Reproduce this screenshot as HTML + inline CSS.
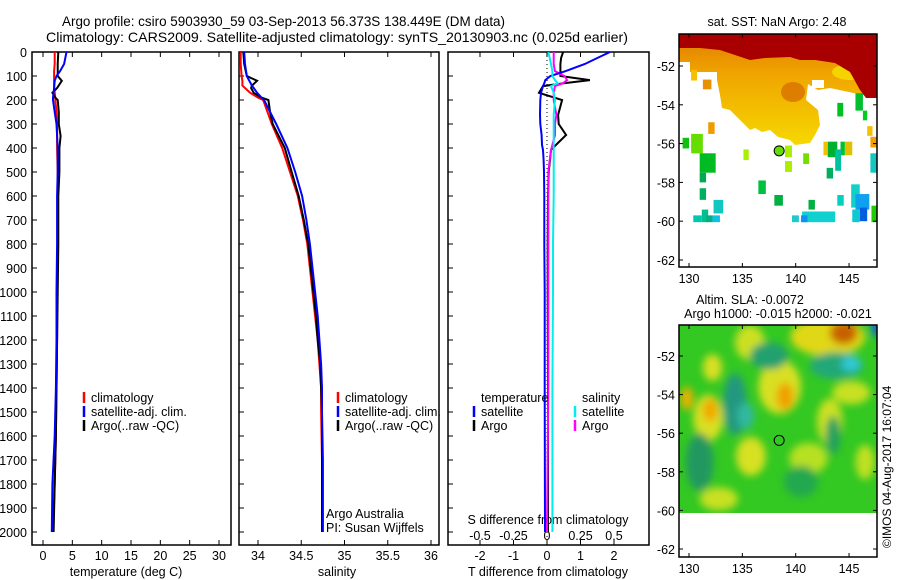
<!DOCTYPE html>
<html><head><meta charset="utf-8"><style>
body{margin:0;background:#fff}
svg{display:block;font-family:"Liberation Sans",sans-serif}
text{fill:#000}
</style></head><body>
<svg id="s" width="900" height="580" viewBox="0 0 900 580" xmlns="http://www.w3.org/2000/svg">
<defs>
<clipPath id="c1"><rect x="32" y="52" width="199" height="493"/></clipPath>
<clipPath id="c2"><rect x="239" y="52" width="200" height="493"/></clipPath>
<clipPath id="c3"><rect x="448" y="52" width="201" height="493"/></clipPath>
<clipPath id="cm1"><rect x="679" y="34" width="198" height="233"/></clipPath>
<clipPath id="cm2"><rect x="679" y="325" width="198" height="188"/></clipPath>
<filter id="bl" x="-50%" y="-50%" width="200%" height="200%"><feGaussianBlur stdDeviation="4"/></filter>
<linearGradient id="og" x1="0" y1="0" x2="0" y2="1"><stop offset="0" stop-color="#e07a00"/><stop offset="0.35" stop-color="#f0a400"/><stop offset="1" stop-color="#f6d800"/></linearGradient>
</defs>
<g>
<text x="62" y="26" font-size="14" textLength="443" lengthAdjust="spacingAndGlyphs">Argo profile: csiro 5903930_59 03-Sep-2013 56.373S 138.449E (DM data)</text>
<text x="46" y="42" font-size="14" textLength="582" lengthAdjust="spacingAndGlyphs">Climatology: CARS2009. Satellite-adjusted climatology: synTS_20130903.nc (0.025d earlier)</text>
</g>
<g id="g1"></g>
<g id="g2"></g>
<g id="g3"></g>
<g id="m1"></g>
<g id="m2"></g>
<text x="891" y="548" font-size="12" transform="rotate(-90 891 548)">©IMOS 04-Aug-2017 16:07:04</text>
</svg>
<script>
// ---- profile data ----
const tDepth = [0,50,80,100,120,150,170,190,200,250,300,350,400,500,600,800,1000,1200,1400,1600,1800,2000];
const tClim  = [2.0,2.0,1.9,1.9,1.9,1.9,2.0,2.1,2.1,2.3,2.4,2.4,2.4,2.5,2.5,2.5,2.4,2.4,2.3,2.2,2.0,1.7];
const tSat   = [4.0,3.6,2.9,2.3,2.0,1.9,1.8,1.7,1.7,2.0,2.3,2.4,2.5,2.5,2.4,2.4,2.3,2.3,2.2,2.0,1.6,1.5];
const tArgo  = [2.6,2.5,2.5,2.5,3.2,2.4,1.6,2.1,2.5,2.7,2.7,3.0,2.8,2.8,2.6,2.6,2.5,2.4,2.3,2.2,2.0,1.8];
const sDepth = [0,50,100,120,140,150,170,190,200,250,300,400,500,600,700,800,900,1000,1100,1200,1300,1400,1500,1700,2000];
const sClim  = [33.80,33.80,33.81,33.82,33.82,33.85,33.91,34.00,34.06,34.11,34.16,34.28,34.37,34.46,34.52,34.57,34.60,34.63,34.66,34.69,34.71,34.73,34.73,34.74,34.74];
const sSat   = [33.84,33.85,33.87,33.90,33.93,33.95,33.99,34.04,34.07,34.14,34.21,34.34,34.43,34.51,34.56,34.60,34.63,34.66,34.69,34.71,34.73,34.74,34.74,34.75,34.75];
const sArgo  = [33.83,33.84,33.87,33.99,33.93,33.92,33.95,34.04,34.12,34.14,34.17,34.31,34.39,34.47,34.53,34.58,34.61,34.64,34.67,34.69,34.72,34.73,34.74,34.74,34.74];
const dDepth = [0,25,50,80,100,117,130,142,170,200,262,300,346,387,408,450,500,600,800,1000,1400,2000];
const dTSat  = [1.88,1.5,1.13,0.55,0.1,-0.05,-0.08,-0.12,-0.18,-0.2,-0.21,-0.2,-0.16,-0.15,-0.12,-0.1,-0.09,-0.08,-0.08,-0.07,-0.07,-0.06];
const dTArgo = [0.48,0.42,0.40,0.40,0.40,1.28,0.5,-0.12,-0.24,0.45,0.33,0.35,0.57,0.27,0.12,0.09,0.05,0.03,0.02,0.02,0.03,0.03];
const dSSat  = [0.01,0.02,0.03,0.04,0.04,0.06,0.08,0.03,0.05,0.06,0.05,0.05,0.05,0.05,0.05,0.05,0.05,0.05,0.045,0.045,0.04,0.04];
const dSArgo = [0.05,0.05,0.05,0.06,0.13,0.15,0.12,0.06,0.05,0.05,0.07,0.06,0.06,0.04,0.03,0.02,0.01,0.01,0.01,0.01,0.01,0.0];
const tTicks = [0,5,10,15,20,25,30];
const sTicks = [34,34.5,35,35.5,36];
const dtTicks = [-2,-1,0,1,2];
const dsTicks = [-0.5,-0.25,0,0.25,0.5];
const depthTicks = [0,100,200,300,400,500,600,700,800,900,1000,1100,1200,1300,1400,1500,1600,1700,1800,1900,2000];
// ---- map data ----
const lonTicks = [130,135,140,145];
const latTicks = [-52,-54,-56,-58,-60,-62];
const argoLon = 138.449, argoLat = -56.373;
const sstCells = [
[130.2,131.3,-55.5,-56.5,'#66dd00'],[129.4,130,-55.7,-56.25,'#10c010'],[131,132.5,-56.5,-57.5,'#00bb22'],[131,131.6,-57.5,-58,'#00aa55'],[131,131.6,-58.3,-58.9,'#00b060'],
[131.8,132.4,-54.9,-55.5,'#f09a00'],[131.3,132.1,-52.7,-53.2,'#e89000'],[130.2,130.75,-52.2,-52.75,'#f5c000'],
[135.1,135.6,-56.3,-56.85,'#aaee00'],[139,139.65,-56.1,-56.7,'#aaee00'],[139,139.65,-56.9,-57.46,'#aaee00'],[140.7,141.25,-56.5,-57.05,'#77dd00'],
[136.5,137.2,-57.9,-58.6,'#00c040'],[138,138.8,-58.65,-59.2,'#00b040'],[141.2,141.8,-58.9,-59.4,'#00b040'],
[132.3,133.2,-58.9,-59.6,'#10c8c0'],[130.4,131.2,-59.7,-60.05,'#00c8b0'],[131.2,131.8,-59.4,-60.05,'#00c090'],[131.6,132.2,-59.7,-60.05,'#00b080'],[132.2,132.9,-59.7,-60.05,'#10c0e0'],
[140.6,143.7,-59.5,-60.05,'#10d0d0'],[139.65,140.3,-59.7,-60.05,'#20c8d0'],[140.5,141.1,-59.7,-60.05,'#1090f0'],
[143,143.9,-55.9,-56.7,'#00b030'],[142.6,143,-55.9,-56.6,'#f0c000'],[144.6,145.3,-55.9,-56.6,'#e0c000'],[144.2,144.6,-55.9,-56.6,'#00c030'],
[142.9,143.5,-57.25,-57.8,'#00b060'],[143.7,144.25,-56.3,-57.4,'#00c0a0'],[143.9,144.5,-58.65,-59.2,'#00d0c0'],
[145.2,146,-58.1,-59.3,'#10d0c8'],[145.6,146.9,-58.6,-59.4,'#10a0f0'],[146,146.7,-59.3,-60,'#0060e0'],[145.3,146,-59.4,-60.05,'#10c8d0'],
[147,147.6,-56.5,-57.5,'#10c8c0'],[147.1,147.6,-59.2,-60.05,'#22cc00'],[147,147.6,-55.65,-56.2,'#f0a000'],[146.7,147.2,-55.1,-55.6,'#f5c000'],
[143.9,144.45,-53.9,-54.6,'#00c020'],[145.6,146.3,-53.4,-54.3,'#00c030'],[146.3,146.7,-54.3,-54.8,'#00cc20']];
const slaBlobs = [
[143,-51,3.5,1,'#e0d818'],[144.5,-50.8,1.3,0.6,'#c86000'],[147.6,-50.5,0.5,0.5,'#1060e0'],
[143.8,-52.5,2.5,0.7,'#22a878'],[145.2,-52.4,0.9,0.4,'#30c8d8'],[132.2,-52.6,0.9,0.7,'#d8e020'],[135.7,-51.3,1.4,0.9,'#cce020'],
[138.5,-53.6,2,1.4,'#d8e020'],[139,-54.1,0.8,0.7,'#f0a000'],[131.8,-55.2,1.4,1.2,'#d8e020'],[132,-54.8,0.7,0.6,'#f0a800'],[129.8,-54.2,0.6,0.6,'#f0b000'],
[134.3,-54.5,1.1,1.6,'#209880'],[135.3,-55.1,0.8,0.7,'#30b8a0'],[135.8,-57.2,1.4,1.0,'#d8e020'],[132.8,-59.4,1.8,0.6,'#c8e020'],
[143.2,-55.4,1.2,1.2,'#cce020'],[145.2,-53.9,1.8,0.6,'#c8e020'],[141.2,-57.3,1.8,0.8,'#b8e020'],[143.5,-56.1,0.7,1,'#22a060'],
[131,-57.5,1.3,1.5,'#209860'],[137.5,-52,1.8,0.7,'#20a070'],[140.5,-58.5,1.6,0.8,'#22a850'],[146.5,-57.5,0.9,0.9,'#c0e020']];

const NS='http://www.w3.org/2000/svg';
function mk(parent,tag,attrs){const e=document.createElementNS(NS,tag);for(const k in attrs)e.setAttribute(k,attrs[k]);parent.appendChild(e);return e;}
function txt(parent,x,y,s,size,anchor){const t=mk(parent,'text',{x:x,y:y,'font-size':size,'text-anchor':anchor||'start'});t.textContent=s;return t;}
const Y=d=>52+d*0.24;
const XT=v=>43+v*5.867, XS=v=>258+(v-34)*86.5, XDT=v=>547+v*33.5, XDS=v=>547+v*134;

function frame(g,x0,x1,name){
  const r=mk(g,'rect',{x:x0,y:52,width:x1-x0,height:493,fill:'none',stroke:'#000','stroke-width':1.5});
  
  
  depthTicks.forEach(d=>mk(g,'line',{x1:x0,x2:x0+5,y1:Y(d),y2:Y(d),stroke:'#000','stroke-width':1}));
}
function line(g,xs,ys,fx,color,clip,name){
  const pts=xs.map((v,i)=>fx(v).toFixed(1)+','+Y(ys[i]).toFixed(1)).join(' ');
  const p=mk(g,'polyline',{points:pts,fill:'none',stroke:color,'stroke-width':2,'clip-path':'url(#'+clip+')'});
  
  
}
function legend(g,x,y,color,label){
  const l=mk(g,'line',{x1:x,x2:x,y1:y-10,y2:y+1,stroke:color,'stroke-width':2.5});
  
  
  const t=txt(g,x+7,y,label,12.5);
  
  
}
// panel 1
const g1=document.getElementById('g1');
frame(g1,32,231,'temperature-plot-frame');
depthTicks.forEach(d=>{const t=txt(g1,27,Y(d)+5,String(d),12.5,'end');});
tTicks.forEach(v=>{mk(g1,'line',{x1:XT(v),x2:XT(v),y1:52,y2:57,stroke:'#000'});mk(g1,'line',{x1:XT(v),x2:XT(v),y1:545,y2:540,stroke:'#000'});const t=txt(g1,XT(v),560,String(v),12.5,'middle');});
{const t=txt(g1,126,576,'temperature (deg C)',12.5,'middle');}
line(g1,tClim,tDepth,XT,'#f00','c1','temp-climatology-line');
line(g1,tArgo,tDepth,XT,'#000','c1','temp-argo-line');
line(g1,tSat,tDepth,XT,'#00f','c1','temp-satellite-line');
legend(g1,84,402,'#f00','climatology');legend(g1,84,416,'#00f','satellite-adj. clim.');legend(g1,84,430,'#000','Argo(..raw -QC)');
// panel 2
const g2=document.getElementById('g2');
frame(g2,239,439,'salinity-plot-frame');
sTicks.forEach(v=>{mk(g2,'line',{x1:XS(v),x2:XS(v),y1:52,y2:57,stroke:'#000'});mk(g2,'line',{x1:XS(v),x2:XS(v),y1:545,y2:540,stroke:'#000'});const t=txt(g2,XS(v),560,String(v),12.5,'middle');});
{const t=txt(g2,337,576,'salinity',12.5,'middle');}
line(g2,sClim,sDepth,XS,'#f00','c2','sal-climatology-line');
line(g2,sArgo,sDepth,XS,'#000','c2','sal-argo-line');
line(g2,sSat,sDepth,XS,'#00f','c2','sal-satellite-line');
legend(g2,338,402,'#f00','climatology');legend(g2,338,416,'#00f','satellite-adj. clim.');legend(g2,338,430,'#000','Argo(..raw -QC)');
{const t=txt(g2,326,518,'Argo Australia',12.5);
 const u=txt(g2,326,532,'PI: Susan Wijffels',12.5);}
// panel 3
const g3=document.getElementById('g3');
frame(g3,448,649,'difference-plot-frame');
dtTicks.forEach(v=>{mk(g3,'line',{x1:XDT(v),x2:XDT(v),y1:545,y2:540,stroke:'#000'});mk(g3,'line',{x1:XDT(v),x2:XDT(v),y1:52,y2:57,stroke:'#000'});const t=txt(g3,XDT(v),560,String(v),12.5,'middle');});
dsTicks.forEach(v=>{const t=txt(g3,XDS(v),540,String(v),12.5,'middle');});
{const t=txt(g3,548,524,'S difference from climatology',12.5,'middle');
 const u=txt(g3,548,576,'T difference from climatology',12.5,'middle');}
mk(g3,'line',{x1:XDT(0),x2:XDT(0),y1:52,y2:545,stroke:'#000','stroke-width':1,'stroke-dasharray':'1,3'});
line(g3,dTArgo,dDepth,XDT,'#000','c3','tdiff-argo-line');
line(g3,dSArgo,dDepth,XDS,'#f0f','c3','sdiff-argo-line');
line(g3,dTSat,dDepth,XDT,'#00f','c3','tdiff-satellite-line');
line(g3,dSSat,dDepth,XDS,'#0ee','c3','sdiff-satellite-line');
{const t=txt(g3,481,402,'temperature',12.5);
 const u=txt(g3,582,402,'salinity',12.5);}
legend(g3,474,416,'#00f','satellite');legend(g3,474,430,'#000','Argo');legend(g3,575,416,'#0ee','satellite');legend(g3,575,430,'#f0f','Argo');
// maps
function mapAxes(g,top,bottom,LY,LX,name){
  const r=mk(g,'rect',{x:679,y:top,width:198,height:bottom-top,fill:'none',stroke:'#000','stroke-width':1.5});
  
  
  lonTicks.forEach(v=>{mk(g,'line',{x1:LX(v),x2:LX(v),y1:top,y2:top+4,stroke:'#000'});mk(g,'line',{x1:LX(v),x2:LX(v),y1:bottom,y2:bottom-4,stroke:'#000'});const t=txt(g,LX(v),bottom+16,String(v),12.5,'middle');});
  latTicks.forEach(v=>{mk(g,'line',{x1:679,x2:683,y1:LY(v),y2:LY(v),stroke:'#000'});mk(g,'line',{x1:877,x2:873,y1:LY(v),y2:LY(v),stroke:'#000'});const t=txt(g,675,LY(v)+5,String(v),12.5,'end');});
}
const LX=v=>689+(v-130)*10.67;
const LY1=v=>66+(-52-v)*19.4, LY2=v=>356+(-52-v)*19.3;
const m1=document.getElementById('m1');
{const t=txt(m1,777,26,'sat. SST: NaN Argo: 2.48',12.5,'middle');}
const sg=mk(m1,'g',{'clip-path':'url(#cm1)'});
mk(sg,'polygon',{points:'679,34 877,34 877,98 830,88 818,90 808,84 806,100 818,110 820,125 815,135 810,143 795,145 790,140 778,137 770,130 762,132 755,128 750,130 745,125 738,118 730,110 722,108 720,95 717,80 717,72 690,72 690,62 679,62',fill:'url(#og)'});
mk(sg,'ellipse',{cx:793,cy:92,rx:12,ry:10,fill:'#d87000',opacity:0.8});
mk(sg,'ellipse',{cx:850,cy:72,rx:18,ry:8,fill:'#f5d800',opacity:0.9});
mk(sg,'polygon',{points:'679,34 877,34 877,98 866,98 860,90 850,72 835,63 815,60 800,60 790,57 765,58 750,60 735,55 720,50 700,48 679,48',fill:'#a80000'});
mk(sg,'rect',{x:812,y:80,width:12,height:8,fill:'#fff'});
sstCells.forEach(c=>{const r=mk(sg,'rect',{x:LX(c[0]),y:LY1(c[2]),width:LX(c[1])-LX(c[0]),height:LY1(c[3])-LY1(c[2]),fill:c[4]});
 
 });
mk(m1,'circle',{cx:LX(argoLon),cy:LY1(argoLat),r:5,fill:'#66dd00',stroke:'#000','stroke-width':1});
mapAxes(m1,34,267,LY1,LX,'sst-map-frame');
const m2=document.getElementById('m2');
{const t=txt(m2,750,304,'Altim. SLA: -0.0072',12.5,'middle');
 const u=txt(m2,778,318,'Argo h1000: -0.015 h2000: -0.021',12.5,'middle');}
const lg=mk(m2,'g',{'clip-path':'url(#cm2)'});
mk(lg,'rect',{x:679,y:325,width:198,height:188,fill:'#33c822'});
const bg=mk(lg,'g',{filter:'url(#bl)'});
slaBlobs.forEach(b=>{const e=mk(bg,'ellipse',{cx:LX(b[0]),cy:LY2(b[1]),rx:b[2]*10.67,ry:b[3]*19.3,fill:b[4]});
 
 });
mk(m2,'circle',{cx:LX(argoLon),cy:LY2(argoLat),r:5,fill:'none',stroke:'#000','stroke-width':1});
mapAxes(m2,325,557,LY2,LX,'sla-map-frame');
</script>
</body></html>
